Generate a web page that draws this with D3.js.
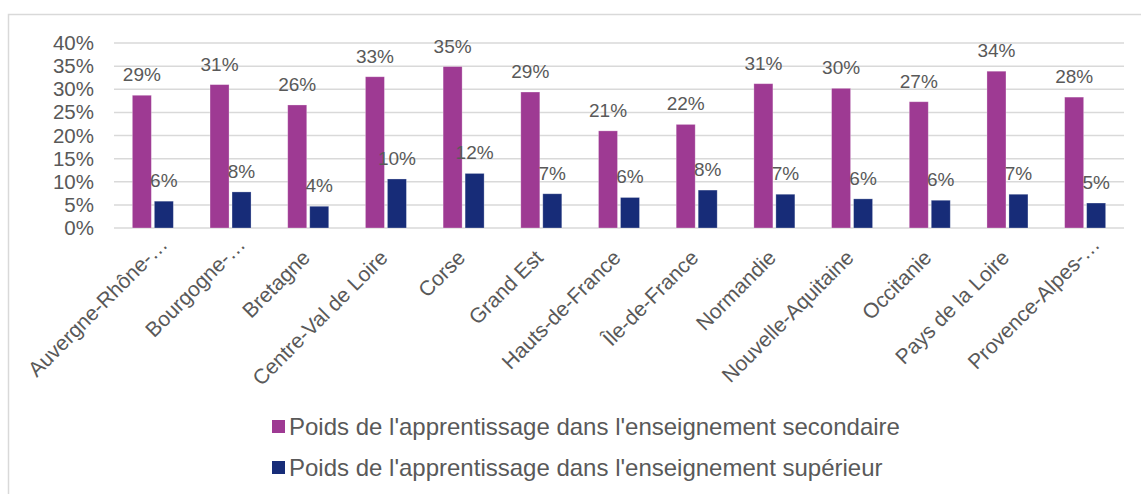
<!DOCTYPE html>
<html>
<head>
<meta charset="utf-8">
<script src="https://cdn.jsdelivr.net/npm/d3@7"></script>
<style>
  html, body { margin: 0; padding: 0; background: #fff; }
  svg { display: block; font-family: "Liberation Sans", Arial, sans-serif; }
</style>
</head>
<body>
<svg id="chart" width="1141" height="494"></svg>
<script>
const categories = ["Auvergne-Rhône-…", "Bourgogne-…", "Bretagne", "Centre-Val de Loire", "Corse", "Grand Est", "Hauts-de-France", "Île-de-France", "Normandie", "Nouvelle-Aquitaine", "Occitanie", "Pays de la Loire", "Provence-Alpes-…"];
const secondaire = [28.7, 31.0, 26.6, 32.7, 34.9, 29.4, 21.0, 22.4, 31.2, 30.2, 27.3, 33.9, 28.3];
const superieur  = [5.8, 7.8, 4.7, 10.6, 11.8, 7.4, 6.6, 8.2, 7.3, 6.3, 6.0, 7.3, 5.4];
const secondaireLabels = ["29%", "31%", "26%", "33%", "35%", "29%", "21%", "22%", "31%", "30%", "27%", "34%", "28%"];
const superieurLabels  = ["6%", "8%", "4%", "10%", "12%", "7%", "6%", "8%", "7%", "6%", "6%", "7%", "5%"];
const seriesNames = ["Poids de l'apprentissage dans l'enseignement secondaire", "Poids de l'apprentissage dans l'enseignement supérieur"];
const yTicks = [0, 5, 10, 15, 20, 25, 30, 35, 40];

const colors = ["#9E3A93", "#172C78"];
const textColor = "#595959";
const gridColor = "#D9D9D9";

const svg = d3.select("#chart");

// frame
svg.append("path")
  .attr("d", "M8.5,494 L8.5,14.5 L1141,14.5")
  .attr("fill", "none").attr("stroke", gridColor).attr("stroke-width", 1.5);

const x0 = d3.scaleBand().domain(categories).range([114, 1124]).padding(0);
const x1 = d3.scaleBand().domain([0, 1]).range([0, 41]).paddingInner(0.136);
const y = d3.scaleLinear().domain([0, 40]).range([228, 43]);

// gridlines
svg.append("g").selectAll("line").data(yTicks).join("line")
  .attr("x1", 114).attr("x2", 1124)
  .attr("y1", d => y(d)).attr("y2", d => y(d))
  .attr("stroke", gridColor).attr("stroke-width", 1.5);

// y axis
const yAxis = d3.axisLeft(y).tickValues(yTicks).tickFormat(d => d + "%").tickSize(0).tickPadding(0);
const gy = svg.append("g").attr("transform", "translate(94,0)").call(yAxis);
gy.select(".domain").remove();
gy.selectAll("text").attr("fill", textColor).style("font-size", "20.5px")
  .style("font-family", "'Liberation Sans', Arial, sans-serif");

const data = categories.map((c, i) => ({ c, vals: [secondaire[i], superieur[i]], labs: [secondaireLabels[i], superieurLabels[i]] }));

const groups = svg.append("g").selectAll("g").data(data).join("g")
  .attr("transform", d => `translate(${x0(d.c) + x0.bandwidth() / 2 - 20.5},0)`);

groups.selectAll("rect").data(d => d.vals.map((v, k) => ({ v, k }))).join("rect")
  .attr("x", d => x1(d.k))
  .attr("width", x1.bandwidth())
  .attr("y", d => y(d.v))
  .attr("height", d => y(0) - y(d.v))
  .attr("fill", d => colors[d.k])
  .attr("stroke", "rgba(255,255,255,0.35)").attr("stroke-width", 0.8);

groups.selectAll("text").data(d => d.vals.map((v, k) => ({ v, k, lab: d.labs[k] }))).join("text")
  .attr("x", d => x1(d.k) + x1.bandwidth() / 2)
  .attr("y", d => y(d.v) - 14)
  .attr("text-anchor", "middle")
  .attr("fill", textColor)
  .style("font-size", "19px")
  .text(d => d.lab);

// x axis labels
const xAxis = d3.axisBottom(x0).tickSize(0).tickPadding(0);
const gx = svg.append("g").call(xAxis);
gx.select(".domain").remove();
gx.selectAll(".tick").attr("transform", d => {
  const cx = x0(d) + x0.bandwidth() / 2;
  const trunc = d.endsWith("…");
  const ox = trunc ? 16 : 3;
  const oy = trunc ? 246 : 259;
  return `translate(${cx + ox},${oy})`;
});
gx.selectAll(".tick text")
  .attr("x", 0).attr("y", 0).attr("dy", 0)
  .attr("transform", "rotate(-45)")
  .attr("text-anchor", "end")
  .attr("fill", textColor)
  .style("font-size", "21px")
  .style("font-family", "'Liberation Sans', Arial, sans-serif");

// legend
const legend = svg.append("g").selectAll("g").data(seriesNames).join("g")
  .attr("transform", (d, i) => `translate(272,${420 + i * 41})`);
legend.append("rect").attr("width", 13).attr("height", 13).attr("fill", (d, i) => colors[i]);
legend.append("text").attr("x", 17).attr("y", 6.5).attr("dy", "0.35em")
  .attr("fill", textColor).style("font-size", "24px").text(d => d);
</script>
</body>
</html>
